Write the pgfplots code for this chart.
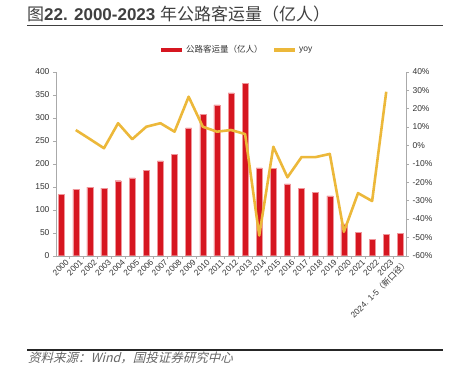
\documentclass[border=0pt]{standalone}
\usepackage{fontspec}
\setmainfont{Liberation Sans}
\newfontfamily\cjk{Noto Sans CJK SC}
\newfontfamily\cjkit[FakeSlant=0.25]{Noto Sans CJK SC}
\usepackage{pgfplots}
\pgfplotsset{compat=1.18}
\definecolor{barred}{RGB}{214,22,32}
\definecolor{baredge}{RGB}{240,150,155}
\definecolor{gold}{RGB}{236,184,58}
\definecolor{axgray}{RGB}{170,170,170}
\definecolor{txt}{RGB}{51,51,51}
\begin{document}
\begin{tikzpicture}[x=1pt,y=1pt]
\path[use as bounding box] (0,0) rectangle (460,370);
% title
\node[anchor=west,text=black!75,inner sep=0pt] at (27,356) {\fontsize{17}{18}\selectfont\cjk 图\bfseries\fontspec{Liberation Sans}22. 2000-2023 \mdseries\cjk 年公路客运量（亿人）};
\draw[line width=1.4pt, black!75] (27,344.3) -- (443,344.3);
\draw[line width=1.2pt, black!85] (27,20) -- (443,20);
\node[anchor=west,text=black!60,inner sep=0pt] at (28,12.5) {\fontsize{12.5}{13}\selectfont\cjkit 资料来源：Wind，国投证券研究中心};
\begin{axis}[
  at={(56pt,114.3pt)}, anchor=south west,
  scale only axis, width=350pt, height=184pt,
  xmin=-0.4, xmax=24.4, ymin=0, ymax=400,
  axis y line*=left, axis x line*=bottom,
  axis line style={axgray},
  ytick={0,50,...,400},
  xtick={0,...,24},
  xticklabels={2000,2001,2002,2003,2004,2005,2006,2007,2008,2009,2010,2011,2012,2013,2014,2015,2016,2017,2018,2019,2020,2021,2022,2023,{2024. 1-5\cjk（新口径）}},
  x tick label style={rotate=45, anchor=north east, inner sep=0.5pt, xshift=3pt, yshift=-2pt, font=\fontsize{8.3}{9}\selectfont, text=txt},
  y tick label style={font=\fontsize{8.5}{9}\selectfont, text=txt},
  /pgf/number format/assume math mode=true,
  major x tick style={draw=none},
  minor xtick={-0.5,0.5,...,24.5},
  minor tick length=3pt,
  minor x tick style={axgray},
  major tick length=3pt,
  ytick style={axgray},
  tick align=outside,
  legend style={at={(0.517,1.118)}, anchor=center, draw=none, fill=none,
    legend columns=2, font=\fontsize{8.5}{9}\selectfont\cjk, text=txt,
    inner sep=0pt,
    /tikz/every even column/.append style={column sep=8pt}},
  legend image code/.code={\draw[#1, line width=3.5pt] (0pt,0pt) -- (21pt,0pt);},
]
\addplot[ybar, bar width=6pt, fill=barred, draw=baredge, line width=0.4pt, forget plot] coordinates {
(0,134) (1,144) (2,149) (3,147) (4,163) (5,169) (6,185) (7,206) (8,220) (9,278)
(10,307) (11,328) (12,354) (13,374) (14,191) (15,190) (16,156) (17,146.5) (18,137) (19,130)
(20,69) (21,51) (22,35.5) (23,45.7) (24,48)};
\addlegendimage{barred}
\addlegendentry{公路客运量（亿人）}
\addlegendimage{gold}
\addlegendentry{\fontspec{Liberation Sans}yoy}
\end{axis}
\begin{axis}[
  at={(56pt,114.3pt)}, anchor=south west,
  scale only axis, width=350pt, height=184pt,
  xmin=-0.4, xmax=24.4, ymin=-60, ymax=40,
  axis y line*=right, axis x line=none,
  axis line style={axgray},
  ytick={-60,-50,...,40},
  yticklabel={\pgfmathprintnumber{\tick}\%},
  /pgf/number format/assume math mode=true,
  y tick label style={font=\fontsize{8.5}{9}\selectfont, text=txt},
  ytick style={axgray}, major tick length=3pt, tick align=outside,
]
\addplot[gold, line width=2.6pt, line join=round] coordinates {
(1,8.3) (2,3.4) (3,-1.6) (4,12) (5,3.3) (6,10.1) (7,12) (8,7.4) (9,26.4) (10,10.1)
(11,7.4) (12,8.3) (13,6.1) (14,-49) (15,-0.8) (16,-17.4) (17,-6.4) (18,-6.4) (19,-4.7)
(20,-47) (21,-26) (22,-30.3) (23,29.1)};
\end{axis}
\end{tikzpicture}
\end{document}
